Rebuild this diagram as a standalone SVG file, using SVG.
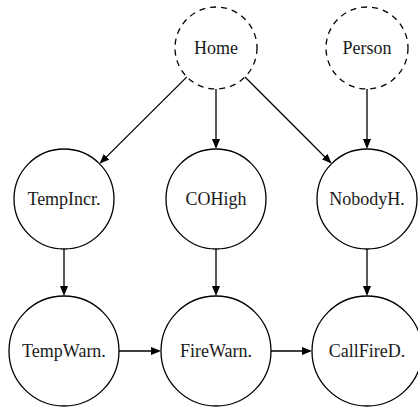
<svg xmlns="http://www.w3.org/2000/svg" width="418" height="407" viewBox="0 0 418 407">
<style>
.n{fill:#fff;stroke:#000;stroke-width:1.3}
.d{stroke-dasharray:6 5}
.t{font-family:"Liberation Serif","Times New Roman",serif;font-size:18px;fill:#1a1a1a;text-anchor:middle}
.e{stroke:#000;stroke-width:1.3;fill:none;marker-end:url(#ah)}
</style>
<defs>
<marker id="ah" markerUnits="userSpaceOnUse" markerWidth="12" markerHeight="10" refX="8" refY="4" orient="auto">
<path d="M0,0 L10,4 L0,8 z" fill="#000"/>
</marker>
</defs>
<rect width="418" height="407" fill="#fff"/>
<g id="connectors">
<line class="e" x1="186.9" y1="76.9" x2="100.9" y2="162.4"/>
<line class="e" x1="216" y1="89" x2="216" y2="147"/>
<line class="e" x1="245" y1="77" x2="330.2" y2="162.2"/>
<line class="e" x1="367" y1="89" x2="367" y2="147"/>
<line class="e" x1="64" y1="249" x2="64" y2="294"/>
<line class="e" x1="216" y1="249" x2="216" y2="294"/>
<line class="e" x1="367" y1="249" x2="367" y2="294"/>
<line class="e" x1="119" y1="351" x2="159" y2="351"/>
<line class="e" x1="271" y1="351" x2="310" y2="351"/>
</g>
<g id="Home"><circle class="n d" cx="216" cy="48" r="41"/><text class="t" x="216" y="54">Home</text></g>
<g id="Person"><circle class="n d" cx="367" cy="48" r="41"/><text class="t" x="367" y="54">Person</text></g>
<g id="TempIncr"><circle class="n" cx="64" cy="199" r="50"/><text class="t" x="64" y="205">TempIncr.</text></g>
<g id="COHigh"><circle class="n" cx="216" cy="199" r="50"/><text class="t" x="216" y="205">COHigh</text></g>
<g id="NobodyH"><circle class="n" cx="367" cy="199" r="50"/><text class="t" x="367" y="205">NobodyH.</text></g>
<g id="TempWarn"><circle class="n" cx="64" cy="351" r="55"/><text class="t" x="64" y="357">TempWarn.</text></g>
<g id="FireWarn"><circle class="n" cx="216" cy="351" r="55"/><text class="t" x="216" y="357">FireWarn.</text></g>
<g id="CallFireD"><circle class="n" cx="367" cy="351" r="55"/><text class="t" x="367" y="357">CallFireD.</text></g>
</svg>
